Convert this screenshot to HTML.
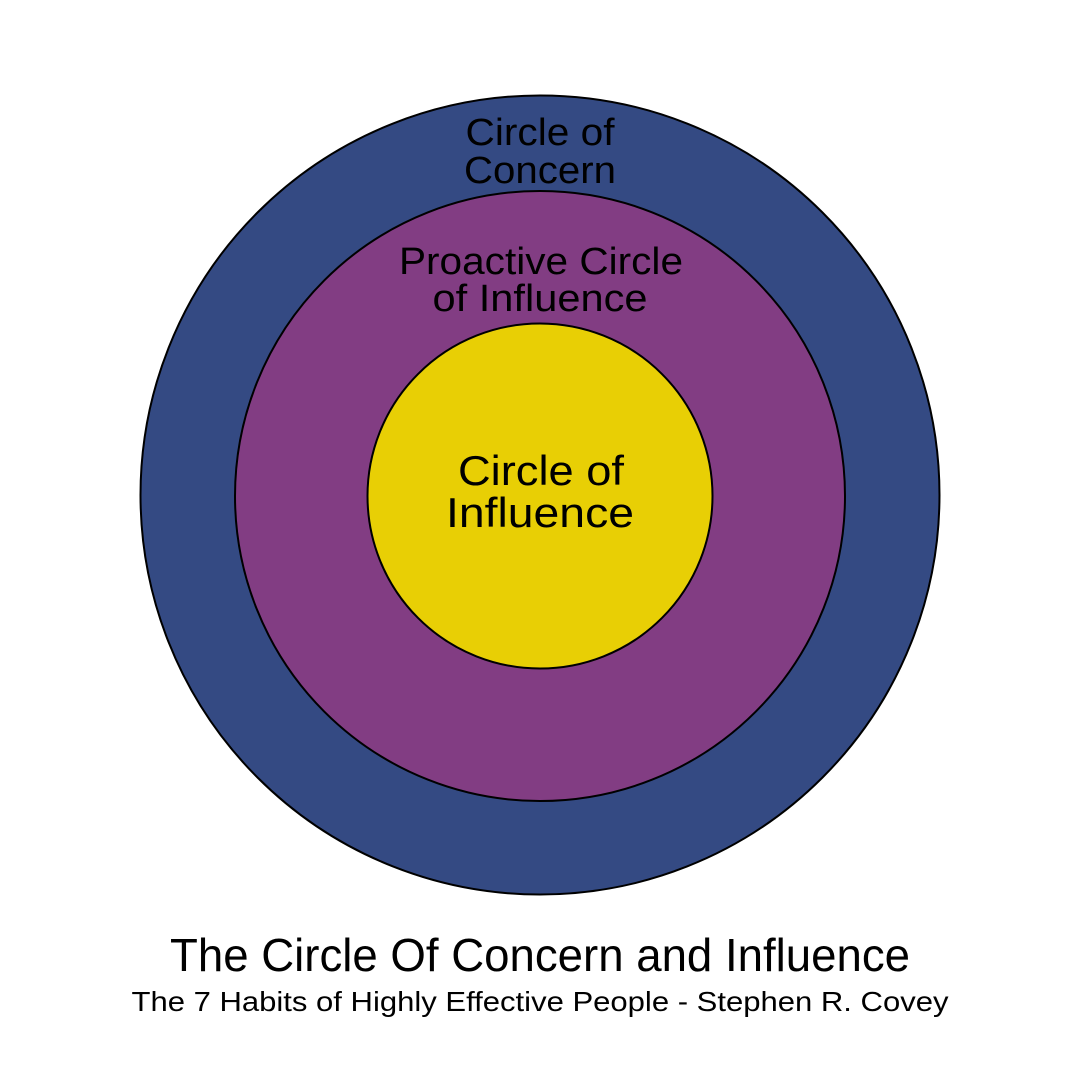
<!DOCTYPE html>
<html><head><meta charset="utf-8"><style>html,body{margin:0;padding:0;background:#fff}svg{display:block}</style></head>
<body>
<svg width="1080" height="1080" viewBox="0 0 1080 1080" xmlns="http://www.w3.org/2000/svg" font-family="Liberation Sans, sans-serif" text-anchor="middle" fill="#000">
<rect width="1080" height="1080" fill="#fff"/>
<circle cx="540" cy="495" r="399.5" fill="#344a83" stroke="#000" stroke-width="2"/>
<circle cx="540" cy="496" r="305" fill="#823d83" stroke="#000" stroke-width="2"/>
<circle cx="540" cy="496" r="172.5" fill="#e8cf05" stroke="#000" stroke-width="2"/>
<g font-size="38">
<text x="540" y="145" textLength="149" lengthAdjust="spacingAndGlyphs">Circle of</text>
<text x="540" y="183" textLength="152" lengthAdjust="spacingAndGlyphs">Concern</text>
<text x="541" y="274" textLength="284" lengthAdjust="spacingAndGlyphs">Proactive Circle</text>
<text x="540" y="311" textLength="215" lengthAdjust="spacingAndGlyphs">of Influence</text>
</g>
<g font-size="42">
<text x="541" y="485" textLength="166" lengthAdjust="spacingAndGlyphs">Circle of</text>
<text x="540" y="527" textLength="188" lengthAdjust="spacingAndGlyphs">Influence</text>
</g>
<text x="540" y="971" font-size="46" textLength="740" lengthAdjust="spacingAndGlyphs">The Circle Of Concern and Influence</text>
<text x="540" y="1011" font-size="28" textLength="817" lengthAdjust="spacingAndGlyphs">The 7 Habits of Highly Effective People - Stephen R. Covey</text>
</svg>
</body></html>
